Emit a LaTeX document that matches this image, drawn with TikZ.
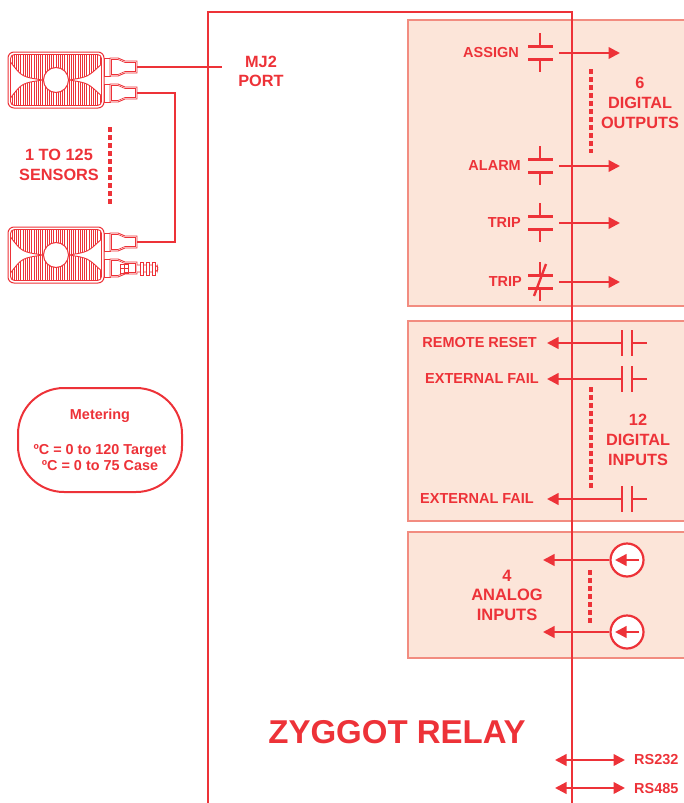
\documentclass[tikz,border=0pt]{standalone}
\usepackage{fontspec}
\setmainfont{Liberation Sans}
\usetikzlibrary{arrows.meta}
\definecolor{zred}{RGB}{237,50,56}
\definecolor{zfill}{RGB}{252,229,217}
\definecolor{zedge}{RGB}{242,140,128}

\begin{document}
\begin{tikzpicture}[x=1pt,y=-1pt,>={Triangle[length=11.5pt,width=11.5pt]},
  line width=2.4pt,zred,
  lbl node/.style={text=zred,font=\fontsize{14.5}{16}\selectfont\bfseries,inner sep=0pt},
  big node/.style={text=zred,font=\fontsize{16.3}{20}\selectfont\bfseries,inner sep=0pt,align=center},
  box node/.style={draw=zred,line width=2pt,rounded corners=46pt,minimum width=164pt,
    minimum height=104pt,align=center,text=zred,font=\fontsize{14.4}{16}\selectfont\bfseries},
  ring node/.style={circle,draw=zred,fill=white,line width=2.2pt,minimum size=33pt,inner sep=0pt},
  panel/.style={fill=zfill,draw=zedge,line width=1.2pt},
  wire/.style={zred,line width=2.6pt},
  dots/.style={zred,line width=3.5pt,dash pattern=on 5pt off 3pt},
  contact/.style={zred,line width=2.4pt},
  fine/.style={zred,line width=0.9pt},
  sensor/.pic={
    \draw[fine,line width=1pt,rounded corners=6pt] (0,0) rectangle (96,56);
    \draw[fine,rounded corners=4pt] (2.5,2.5) rectangle (93.5,53.5);
    \begin{scope}
      \clip[rounded corners=4pt] (2.5,2.5) rectangle (93.5,53.5);
      \foreach \x in {4,6.2,...,93} \draw[fine] (\x,2) -- (\x,54);
    \end{scope}
    \filldraw[fine,fill=white] (2.5,10) .. controls (14,25) .. (35,28)
      .. controls (14,31) .. (2.5,46) -- cycle;
    \filldraw[fine,fill=white] (93.5,12) .. controls (80,25) .. (61,28)
      .. controls (80,31) .. (93.5,44) -- cycle;
    \filldraw[fine,fill=white,line width=1pt] (48,28) circle[radius=12.5];
    \foreach \c in {15,41} {
      \draw[fine,fill=white] (96,\c-9) rectangle (102,\c+9);
      \draw[fine,fill=white] (102,\c-9) -- (110,\c-9) -- (117,\c-6) -- (129,\c-6)
        -- (129,\c+6) -- (117,\c+6) -- (110,\c+9) -- (102,\c+9) -- cycle;
      \draw[fine,line width=0.6pt] (103.5,\c-7.5) -- (110,\c-7.5) -- (117,\c-4.5) -- (127.5,\c-4.5)
        -- (127.5,\c+4.5) -- (117,\c+4.5) -- (110,\c+7.5) -- (103.5,\c+7.5) -- cycle;
    }
    \coordinate (-a) at (129,15);
    \coordinate (-b) at (129,41);
  }]

  \useasboundingbox (0,0) rectangle (683,803);

  % panels
  \draw[panel] (408,20) rectangle (700,306);
  \draw[panel] (408,321) rectangle (700,521);
  \draw[panel] (408,532) rectangle (700,658);

  % relay
  \draw[wire,line width=2.5pt] (208,810) -- (208,12) -- (572,12) -- (572,810);
  \node[text=zred,font=\fontsize{33}{36}\selectfont\bfseries,inner sep=0pt] (relay) at (397,732) {ZYGGOT RELAY};

  % sensors
  \pic (s1) at (8,52) {sensor};
  \pic (s2) at (8,227) {sensor};
  \draw[fine,fill=white,rounded corners=2pt] (137,265) -- (157,265) -- (158,268.5)
    -- (157,272) -- (137,272);
  \foreach \x in {140,146,152}
    \draw[fine,fill=white] (\x,262) rectangle (\x+3,275);
  \draw[fine] (120,264) rectangle (128,273) (124,264) -- (124,273) (120,268.5) -- (128,268.5);
  \coordinate (mj2) at (222,67);
  \draw[wire] (s1-a) -- (mj2);
  \draw[wire] (s1-b) -- ++(38,0) |- (s2-a);
  \draw[dots] (110,127) -- (110,204);
  \node[big node] (count) at (59,165) {1 TO 125\\SENSORS};
  \node[big node,font=\fontsize{16.3}{19}\selectfont\bfseries] (port) at (261,71.5) {MJ2\\PORT};

  % metering
  \node[box node] (meter) at (100,440) {Metering\\[19pt]ºC = 0 to 120 Target\\ºC = 0 to 75 Case};

  % digital outputs
  \foreach \y/\n in {53/1,166/2,223/3,282/4} {
    \coordinate (out\n) at (559,\y);
    \coordinate (out\n e) at (620,\y);
    \draw[contact] (540,\y-20) -- (540,\y-6.5) (528,\y-6.5) -- (553,\y-6.5)
      (528,\y+6.5) -- (553,\y+6.5) (540,\y+6.5) -- (540,\y+19);
    \draw[->] (out\n) -- (out\n e);
  }
  \draw[contact] (534,296) -- (546,264);
  \node[lbl node,anchor=east] (assign) at (520,53) {ASSIGN};
  \node[lbl node,anchor=east] (alarm) at (522,166) {ALARM};
  \node[lbl node,anchor=east] (trip) at (522,223) {TRIP};
  \node[lbl node,anchor=east] (tripnc) at (523,282) {TRIP};
  \draw[dots] (591,69) -- (591,153);
  \node[big node] (outs) at (640,103) {6\\DIGITAL\\OUTPUTS};

  % digital inputs
  \foreach \y/\n in {343/1,379/2,499/3} {
    \coordinate (in\n) at (622,\y);
    \coordinate (in\n e) at (547,\y);
    \draw[contact] (622,\y-13) -- (622,\y+13) (632,\y-13) -- (632,\y+13) (632,\y) -- (647,\y);
    \draw[->] (in\n) -- (in\n e);
  }
  \node[lbl node,anchor=east] (reset) at (538,343) {REMOTE RESET};
  \node[lbl node,anchor=east] (fail) at (540,379) {EXTERNAL FAIL};
  \node[lbl node,anchor=east] (failn) at (535,499) {EXTERNAL FAIL};
  \draw[dots] (591,387) -- (591,490);
  \node[big node] (ins) at (638,440) {12\\DIGITAL\\INPUTS};

  % analog inputs
  \foreach \y/\n in {560/1,632/2} {
    \node[ring node] (ai\n) at (627,\y) {};
    \coordinate (ai\n e) at (543,\y);
    \draw[->] (ai\n.west) -- (ai\n e);
    \draw[->] ([xshift=12pt]ai\n.center) -- ([xshift=-12pt]ai\n.center);
  }
  \draw[dots] (590,570) -- (590,625);
  \node[big node,font=\fontsize{16.5}{19.5}\selectfont\bfseries] (ains) at (507,595) {4\\ANALOG\\INPUTS};

  % serial ports
  \coordinate (rs1a) at (555,760);
  \coordinate (rs1b) at (625,760);
  \coordinate (rs2a) at (555,788);
  \coordinate (rs2b) at (625,788);
  \draw[<->] (rs1a) -- (rs1b);
  \draw[<->] (rs2a) -- (rs2b);
  \node[lbl node,anchor=west] (rs232) at (633,760) {RS232};
  \node[lbl node,anchor=west] (rs485) at (633,788) {RS485};

\end{tikzpicture}
\end{document}
